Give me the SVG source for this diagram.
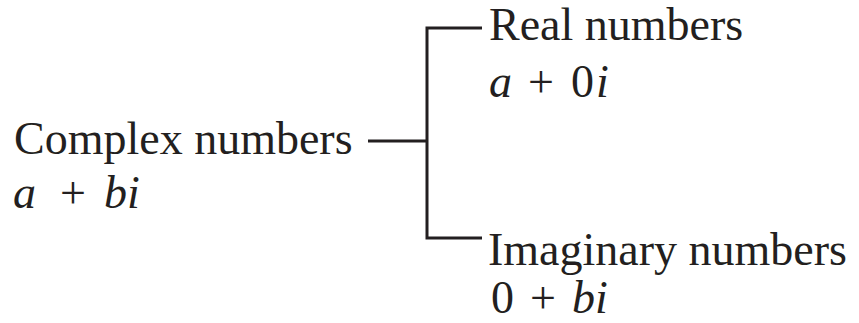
<svg xmlns="http://www.w3.org/2000/svg" width="859" height="323" viewBox="0 0 859 323">
<style>
text{font-family:"Liberation Serif","Times New Roman",serif;font-size:46px;fill:#231f20}
.i{font-style:italic}
.c{fill:none;stroke:#231f20;stroke-width:3}
</style>
<rect width="859" height="323" fill="#fff"/>
<g id="connectors">
<path class="c" d="M368 141H427M482 28H427V238H482"/>
</g>
<g id="complex">
<text x="14" y="154">Complex numbers</text>
<text y="208"><tspan class="i" x="13">a</tspan><tspan x="60">+</tspan><tspan class="i" x="104">bi</tspan></text>
</g>
<g id="real">
<text x="489" y="40">Real numbers</text>
<text y="97"><tspan class="i" x="489">a</tspan><tspan x="528">+</tspan><tspan x="571">0</tspan><tspan class="i" x="596">i</tspan></text>
</g>
<g id="imaginary">
<text x="488" y="265">Imaginary numbers</text>
<text y="313"><tspan x="491">0</tspan><tspan x="530">+</tspan><tspan class="i" x="572">bi</tspan></text>
</g>
</svg>
